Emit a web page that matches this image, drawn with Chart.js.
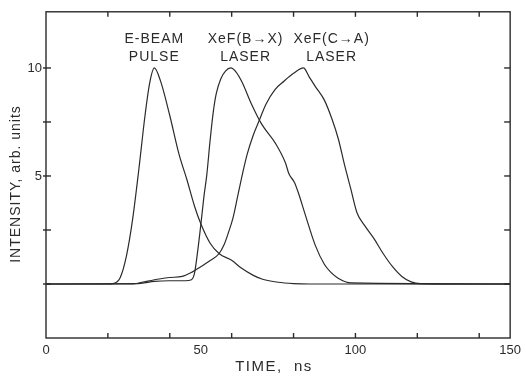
<!DOCTYPE html>
<html>
<head>
<meta charset="utf-8">
<script src="https://cdn.jsdelivr.net/npm/chart.js@4.4.0/dist/chart.umd.min.js"></script>
<style>
  html, body { margin: 0; padding: 0; background: #fff; }
</style>
</head>
<body>
<canvas id="pulseChart" width="526" height="378"></canvas>
<script>
// values: time in ns, intensity in arb. units
const ebeamTime      = [0, 20, 22, 24, 26, 28, 30, 32, 33.5, 35, 37, 40, 43, 45.5, 48, 50, 53, 56, 60, 63, 67, 70, 75, 80, 85, 150];
const ebeamIntensity = [0, 0, 0.03, 0.3, 1.3, 3.0, 5.3, 7.8, 9.3, 10, 9.4, 7.8, 6.0, 4.85, 3.6, 2.8, 1.9, 1.4, 1.1, 0.75, 0.4, 0.22, 0.08, 0.02, 0, 0];

const bxTime      = [0, 30, 35, 40, 45, 47, 48, 49, 50, 51, 52, 53, 54, 55, 56.5, 58, 59.7, 61.5, 63.3, 66.5, 69.7, 74.2, 77.4, 78.5, 80.3, 81.6, 83.8, 87, 90, 92, 94.4, 98.6, 150];
const bxIntensity = [0, 0.02, 0.12, 0.15, 0.15, 0.2, 0.5, 1.5, 2.7, 4.0, 5.1, 6.6, 7.9, 8.8, 9.5, 9.85, 10, 9.8, 9.36, 8.3, 7.4, 6.5, 5.6, 5.1, 4.7, 4.2, 3.2, 1.8, 0.9, 0.55, 0.27, 0.05, 0];

const caTime      = [0, 28, 31, 36.6, 40, 44, 47.2, 50, 52.7, 55.9, 57.5, 59, 60.5, 62, 63.5, 65, 67, 69, 71, 74, 77, 80, 83.2, 85, 87, 90, 92.5, 94.5, 96.5, 98.5, 100.5, 103, 106, 109, 112, 115, 118, 121, 150];
const caIntensity = [0, 0, 0.08, 0.23, 0.3, 0.35, 0.55, 0.8, 1.05, 1.4, 1.8, 2.4, 3.1, 4.1, 5.1, 6.0, 6.9, 7.6, 8.3, 9.0, 9.4, 9.75, 10, 9.6, 9.15, 8.5, 7.6, 6.7, 5.5, 4.4, 3.3, 2.7, 2.1, 1.4, 0.8, 0.35, 0.1, 0.02, 0];

const xTickLabels = [0, 50, 100, 150];
const xTickMarks  = [20, 40, 60, 80, 100, 120, 140];
const yTickLabels = [5, 10];
const yTickMarks  = [0, 2.5, 5, 7.5, 10];

const INK = "#2b2b2b";
const FONT = "'Liberation Sans', Arial, sans-serif";

function toPoints(times, values) {
    return times.map((t, i) => ({ x: t, y: values[i] }));
}

function curve(times, values) {
    return {
        data: toPoints(times, values),
        borderColor: INK,
        borderWidth: 1.2,
        pointRadius: 0,
        fill: false,
        cubicInterpolationMode: "monotone"
    };
}

// frame, inward tick marks, axis titles and curve captions
const frameAndLabels = {
    id: "frameAndLabels",
    afterDraw(chart) {
        const { ctx, chartArea: a, scales: { x, y } } = chart;
        ctx.save();
        ctx.strokeStyle = INK;
        ctx.fillStyle = INK;
        ctx.lineWidth = 1.4;
        ctx.strokeRect(a.left, a.top, a.right - a.left, a.bottom - a.top);

        const seg = (x1, y1, x2, y2) => {
            ctx.beginPath();
            ctx.moveTo(x1, y1);
            ctx.lineTo(x2, y2);
            ctx.stroke();
        };
        xTickMarks.forEach(v => {
            const px = x.getPixelForValue(v);
            seg(px, a.bottom, px, a.bottom - 5);
            seg(px, a.top, px, a.top + 5);
        });
        yTickMarks.forEach(v => {
            const py = y.getPixelForValue(v);
            seg(a.left - 3, py, a.left + 5, py);
            seg(a.right - 6, py, a.right, py);
        });

        ctx.textAlign = "center";
        ctx.textBaseline = "middle";
        ctx.letterSpacing = "1.5px";
        ctx.font = "15px " + FONT;
        ctx.fillText("TIME,  ns", 274, 367);

        ctx.letterSpacing = "1px";
        ctx.font = "14px " + FONT;
        ctx.save();
        ctx.translate(16, 184);
        ctx.rotate(-Math.PI / 2);
        ctx.fillText("INTENSITY, arb. units", 0, 0);
        ctx.restore();

        const captions = [
            { lines: ["E-BEAM", "PULSE"], t: 35 },
            { lines: ["XeF(B\u2192X)", "LASER"], t: 64.5 },
            { lines: ["XeF(C\u2192A)", "LASER"], t: 92.3 }
        ];
        captions.forEach(c => {
            const px = x.getPixelForValue(c.t);
            ctx.fillText(c.lines[0], px, y.getPixelForValue(11.35));
            ctx.fillText(c.lines[1], px, y.getPixelForValue(10.5));
        });
        ctx.restore();
    }
};

new Chart(document.getElementById("pulseChart"), {
    type: "line",
    data: {
        datasets: [
            curve(ebeamTime, ebeamIntensity),
            curve(bxTime, bxIntensity),
            curve(caTime, caIntensity)
        ]
    },
    options: {
        responsive: false,
        animation: false,
        layout: { padding: { left: 0, right: 13, top: 6, bottom: 0 } },
        plugins: {
            legend: { display: false },
            tooltip: { enabled: false }
        },
        scales: {
            x: {
                type: "linear",
                min: 0,
                max: 150,
                afterBuildTicks: scale => { scale.ticks = xTickLabels.map(v => ({ value: v })); },
                afterFit: scale => { scale.height = 40; },
                grid: { display: false, drawTicks: false },
                border: { display: false },
                ticks: {
                    padding: 5,
                    maxRotation: 0,
                    color: INK,
                    font: { family: FONT, size: 13 }
                }
            },
            y: {
                type: "linear",
                min: -2.5,
                max: 12.6,
                afterBuildTicks: scale => { scale.ticks = yTickLabels.map(v => ({ value: v })); },
                afterFit: scale => { scale.width = 46; },
                grid: { display: false, drawTicks: false },
                border: { display: false },
                ticks: {
                    padding: 4,
                    color: INK,
                    font: { family: FONT, size: 13 }
                }
            }
        }
    },
    plugins: [frameAndLabels]
});
</script>
</body>
</html>
